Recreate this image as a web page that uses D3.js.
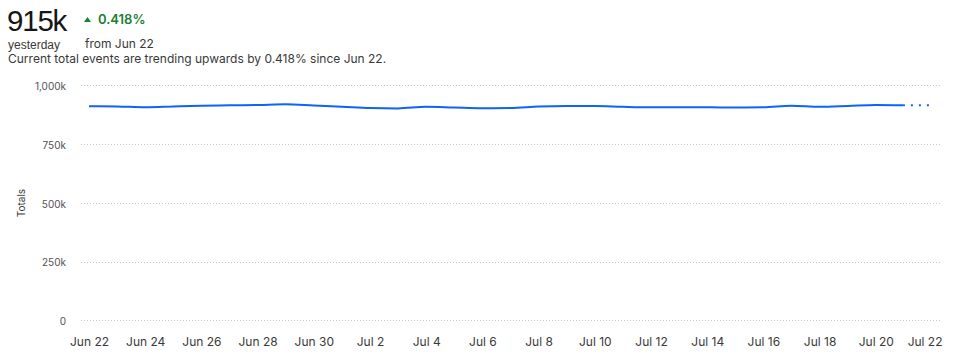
<!DOCTYPE html>
<html>
<head>
<meta charset="utf-8">
<script src="https://cdn.jsdelivr.net/npm/d3@7"></script>
<style>
  html, body { margin: 0; padding: 0; background: #fff; }
  body { width: 955px; height: 358px; overflow: hidden; font-family: "Inter", "Noto Sans", sans-serif; }
  svg { display: block; }
</style>
</head>
<body>
<svg id="chart" width="955" height="358"></svg>
<script>
// ---- data ----
const startDate = "2023-06-22";
const totals = [911, 910, 906.4, 909.8, 913.2, 914.9, 916.2, 919.1, 914, 909, 903.4, 901.7, 908.5, 905.5, 902.6,
                903.4, 909.8, 911.9, 911.9, 908.5, 906.4, 906.4, 906.4, 905.5, 906.4, 913.2, 908.5, 911.9, 916.2, 915];
const projected = [915, 915];
const yTicks = [0, 250, 500, 750, 1000];
const yTickLabels = ["0", "250k", "500k", "750k", "1,000k"];
const xTickLabels = ["Jun 22","Jun 24","Jun 26","Jun 28","Jun 30","Jul 2","Jul 4","Jul 6","Jul 8","Jul 10","Jul 12","Jul 14","Jul 16","Jul 18","Jul 20","Jul 22"];
const headline = "915k";
const changeText = "0.418%";
const subLabel = "yesterday";
const fromLabel = "from Jun 22";
const description = "Current total events are trending upwards by 0.418% since Jun 22.";
const yTitle = "Totals";

// ---- build ----
const parse = d3.timeParse("%Y-%m-%d");
const d0 = parse(startDate);
const dayOf = i => d3.timeDay.offset(d0, i);
const series = totals.map((v, i) => ({ date: dayOf(i), value: v }));
const proj = projected.map((v, i) => ({ date: dayOf(totals.length - 1 + i), value: v }));

const svg = d3.select("#chart");
const x = d3.scaleTime().domain([d0, dayOf(30)]).range([89, 932]);
const y = d3.scaleLinear().domain([0, 1000]).range([320.3, 85.3]);
const plotLeft = 81, plotRight = 942;

// header
svg.append("text").attr("x", 7).attr("y", 30.5).attr("font-size", 29.5).attr("fill", "#161616")
  .attr("font-family", "'Liberation Sans', sans-serif")
  .attr("letter-spacing", -1.2).text(headline);
svg.append("path").attr("d", "M84,22 L87.5,17 L91,22 Z").attr("fill", "#198038");
svg.append("text").attr("x", 98).attr("y", 24).attr("font-size", 13).attr("font-weight", 600)
  .attr("fill", "#198038").text(changeText);
svg.append("text").attr("x", 8).attr("y", 48.5).attr("font-size", 12).attr("fill", "#393939")
  .attr("font-family", "'Liberation Sans', sans-serif").text(subLabel);
svg.append("text").attr("x", 85).attr("y", 48).attr("font-size", 12).attr("fill", "#393939").text(fromLabel);
svg.append("text").attr("x", 8).attr("y", 63).attr("font-size", 12).attr("fill", "#393939").text(description);

// grid
svg.append("g").selectAll("line").data(yTicks).join("line")
  .attr("x1", plotLeft).attr("x2", plotRight)
  .attr("y1", d => Math.round(y(d)) + 0.5).attr("y2", d => Math.round(y(d)) + 0.5)
  .attr("stroke", "#c6c6c6").attr("stroke-width", 1).attr("stroke-dasharray", "1,2");

// y axis
const yAxis = d3.axisLeft(y).tickValues(yTicks).tickSize(0).tickPadding(0)
  .tickFormat((d, i) => yTickLabels[i]);
const gy = svg.append("g").attr("transform", "translate(66,1)").call(yAxis);
gy.select(".domain").remove();
gy.selectAll("text").attr("font-size", 10).attr("fill", "#525252").attr("font-family", "Inter, 'Noto Sans', sans-serif");

svg.append("text").attr("transform", "translate(25,203) rotate(-90)").attr("text-anchor", "middle")
  .attr("font-size", 10).attr("fill", "#393939").text(yTitle);

// x axis
const xTicks = xTickLabels.map((_, i) => dayOf(i * 2));
const xAxis = d3.axisBottom(x).tickValues(xTicks).tickSize(0).tickPadding(0)
  .tickFormat((d, i) => xTickLabels[i]);
const gx = svg.append("g").attr("transform", "translate(0,337)").call(xAxis);
gx.select(".domain").remove();
gx.selectAll("text").attr("font-size", 12).attr("fill", "#393939").attr("font-family", "Inter, 'Noto Sans', sans-serif");
gx.selectAll(".tick").filter((d, i) => i === xTickLabels.length - 1).select("text")
  .attr("text-anchor", "end").attr("x", plotRight - x(xTicks[xTicks.length - 1]));

// line
const line = d3.line().x(d => x(d.date)).y(d => y(d.value)).curve(d3.curveMonotoneX);
svg.append("path").datum(series).attr("d", line).attr("fill", "none")
  .attr("stroke", "#0f62fe").attr("stroke-width", 2);
svg.append("path").datum(proj).attr("d", line).attr("fill", "none")
  .attr("stroke", "#0f62fe").attr("stroke-width", 2).attr("stroke-dasharray", "2,6")
  .attr("stroke-dashoffset", -7);
</script>
</body>
</html>
